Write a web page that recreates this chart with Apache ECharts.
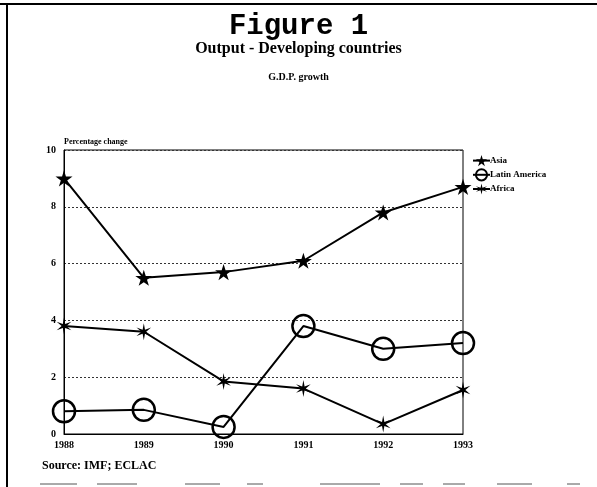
<!DOCTYPE html>
<html>
<head>
<meta charset="utf-8">
<script src="https://cdn.jsdelivr.net/npm/echarts@6/dist/echarts.min.js"></script>
<style>
  html, body { margin: 0; padding: 0; background: #fff; }
  #chart { width: 597px; height: 487px; }
</style>
</head>
<body>
<div id="chart"></div>
<script>
// data
const years = ['1988', '1989', '1990', '1991', '1992', '1993'];
const asia = [9.0, 5.5, 5.7, 6.1, 7.8, 8.7];
const latinAmerica = [0.8, 0.85, 0.25, 3.8, 3.0, 3.2];
const africa = [3.8, 3.6, 1.85, 1.6, 0.35, 1.55];

const starPath = 'path://M50,0 L61,35 L98,35 L68,57 L79,91 L50,70 L21,91 L32,57 L2,35 L39,35 Z';
const thinStarPath = 'path://M50,0 L57,38 L93,25 L64,50 L93,75 L57,62 L50,100 L43,62 L7,75 L36,50 L7,25 L43,38 Z';

const serif = '"Liberation Serif", "DejaVu Serif", serif';

const chart = echarts.init(document.getElementById('chart'));

// bits of the scanned frame
const frame = [
  { type: 'line', shape: { x1: 0, y1: 4, x2: 597, y2: 4 }, style: { stroke: '#000', lineWidth: 2 } },
  { type: 'line', shape: { x1: 7, y1: 4, x2: 7, y2: 487 }, style: { stroke: '#000', lineWidth: 2 } }
];
[[40, 77], [97, 137], [185, 220], [247, 263], [320, 380], [400, 423], [443, 465], [497, 532], [567, 580]].forEach(d => {
  frame.push({ type: 'line', shape: { x1: d[0], y1: 484, x2: d[1], y2: 484 }, style: { stroke: '#555', lineWidth: 1 } });
});

const option = {
  backgroundColor: '#fff',
  animation: false,
  title: [
    {
      text: 'Figure 1', left: 'center', top: 7,
      textStyle: { fontFamily: '"Liberation Mono", monospace', fontWeight: 'bold', fontSize: 29, color: '#000' }
    },
    {
      text: 'Output - Developing countries', left: 'center', top: 36,
      textStyle: { fontFamily: serif, fontWeight: 'bold', fontSize: 16, color: '#000' }
    },
    {
      text: 'G.D.P. growth', left: 'center', top: 67,
      textStyle: { fontFamily: serif, fontWeight: 'bold', fontSize: 10, color: '#000' }
    },
    {
      text: 'Source: IMF; ECLAC', left: 37, top: 455,
      textStyle: { fontFamily: serif, fontWeight: 'bold', fontSize: 12, color: '#000' }
    }
  ],
  grid: { left: 64, right: 134, top: 150, bottom: 53, show: true, borderColor: '#000', borderWidth: 1 },
  legend: {
    orient: 'vertical', left: 467, top: 150, itemGap: 2,
    itemWidth: 17, itemHeight: 14,
    textStyle: { fontFamily: serif, fontWeight: 'bold', fontSize: 9, color: '#000', padding: [0, 0, 0, -5] },
    data: ['Asia', 'Latin America', 'Africa']
  },
  xAxis: {
    type: 'category', data: years, boundaryGap: false,
    axisLine: { lineStyle: { color: '#000', width: 1 } },
    axisTick: { show: false },
    axisLabel: { fontFamily: serif, fontWeight: 'bold', fontSize: 10, color: '#000', margin: 6 }
  },
  yAxis: {
    type: 'value', min: 0, max: 10, interval: 2,
    name: 'Percentage change', nameLocation: 'end', nameGap: 4,
    nameTextStyle: { fontFamily: serif, fontWeight: 'bold', fontSize: 8, color: '#000', align: 'left' },
    axisLine: { show: true, lineStyle: { color: '#000', width: 1 } },
    axisTick: { show: false },
    axisLabel: { fontFamily: serif, fontWeight: 'bold', fontSize: 10, color: '#000', margin: 8 },
    splitLine: { lineStyle: { color: '#333', type: [2, 2], width: 1 } }
  },
  series: [
    {
      name: 'Asia', type: 'line', data: asia,
      symbol: starPath, symbolSize: 17, symbolKeepAspect: true,
      lineStyle: { color: '#000', width: 2 },
      itemStyle: { color: '#000' }
    },
    {
      name: 'Latin America', type: 'line', data: latinAmerica,
      symbol: 'circle', symbolSize: 22,
      lineStyle: { color: '#000', width: 2 },
      itemStyle: { color: 'rgba(0,0,0,0)', borderColor: '#000', borderWidth: 2.5 }
    },
    {
      name: 'Africa', type: 'line', data: africa,
      symbol: thinStarPath, symbolSize: 17, symbolKeepAspect: true,
      lineStyle: { color: '#000', width: 2 },
      itemStyle: { color: '#000' }
    }
  ],
  graphic: frame
};

chart.setOption(option);
</script>
</body>
</html>
